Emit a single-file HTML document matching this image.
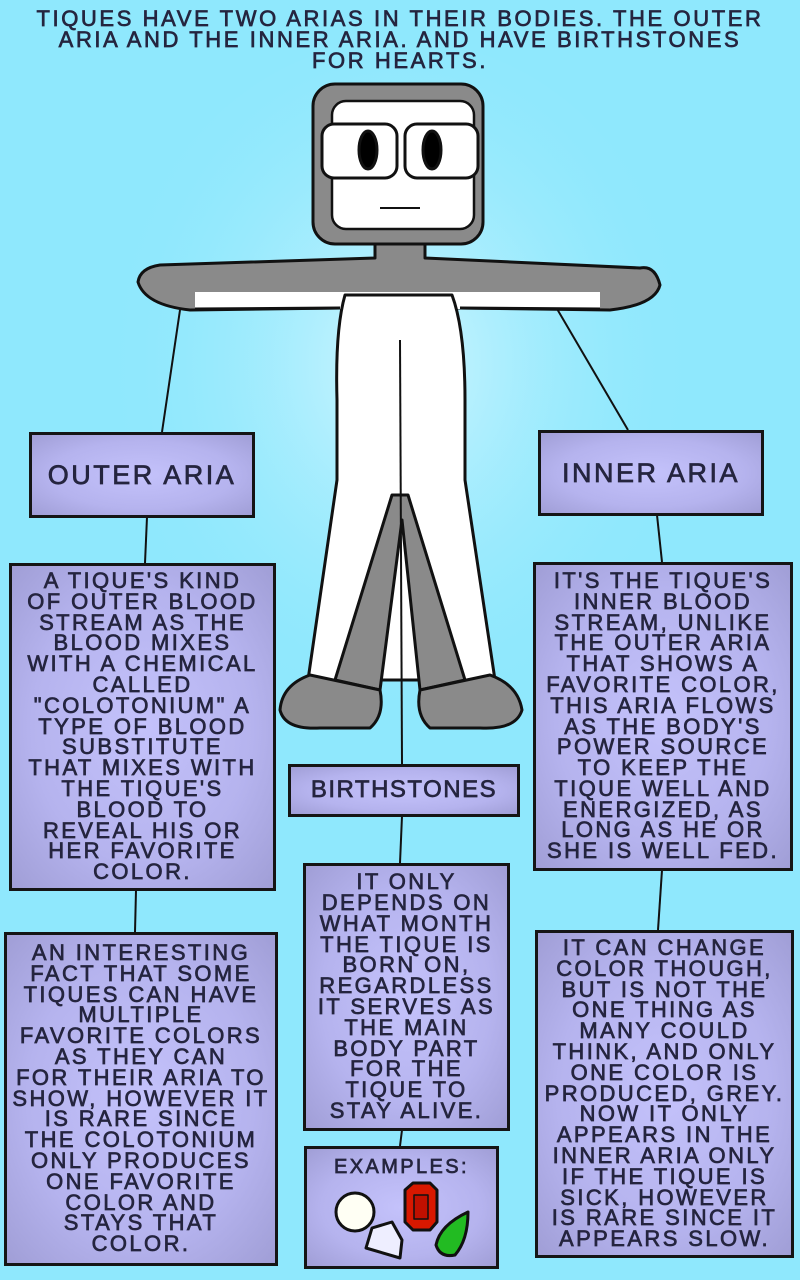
<!DOCTYPE html>
<html><head><meta charset="utf-8"><style>
html,body{margin:0;padding:0}
body{width:800px;height:1280px;position:relative;overflow:hidden;background:#8fe8fd;font-family:"Liberation Sans",sans-serif;color:#25253f}
.t{position:absolute;text-align:center;text-transform:uppercase;-webkit-text-stroke:0.7px #25253f}
.b{position:absolute;box-sizing:border-box;border:3px solid #151515;background:radial-gradient(ellipse at center,#c4c2fb 0%,#b5b3ee 60%,#a09ed6 100%);text-align:center;text-transform:uppercase;-webkit-text-stroke:0.7px #25253f;font-size:22px;line-height:20.8px;letter-spacing:2.4px;display:flex;align-items:center;justify-content:center;white-space:nowrap}
svg{position:absolute;left:0;top:0}
</style></head><body>
<svg width="800" height="1280">
<defs><radialGradient id="glow" cx="50%" cy="45%" r="50%"><stop offset="0" stop-color="#ffffff" stop-opacity="0.6"/><stop offset="1" stop-color="#8fe8fd" stop-opacity="0"/></radialGradient></defs>
<ellipse cx="400" cy="400" rx="300" ry="360" fill="url(#glow)"/>
<g stroke="#111" stroke-width="2" fill="none">
<line x1="180" y1="310" x2="162" y2="432"/>
<line x1="147" y1="517" x2="145" y2="563"/>
<line x1="136" y1="890" x2="135" y2="932"/>
<line x1="553" y1="302" x2="628" y2="430"/>
<line x1="657" y1="515" x2="662" y2="562"/>
<line x1="662" y1="870" x2="658" y2="930"/>
<line x1="402" y1="1130" x2="400" y2="1146"/>
<line x1="402" y1="816" x2="400" y2="863"/>
</g>
<g stroke="#111" stroke-width="3" stroke-linejoin="round">
<path d="M375 233 L375 258 L160 265 Q140 268 138 282 Q145 305 190 310 L340 308 L460 308 L610 310 Q655 305 660 285 Q655 265 640 268 L425 258 L425 233 Z" fill="#8a8a8a"/>
<path d="M195 292 L345 292 L455 292 L600 292 L600 309 L195 309 Z" fill="#fff" stroke="none"/>
<line x1="195" y1="309" x2="340" y2="308" /><line x1="460" y1="308" x2="600" y2="309"/>
<path d="M345 295 Q335 330 337 400 L337 480 L308 680 L495 680 L465 480 L465 400 Q465 330 452 295 Z" fill="#fff"/>
<path d="M392 495 L400 495 L408 495 L465 680 L420 690 L402 520 L380 690 L335 680 Z" fill="#8a8a8a"/>
<path d="M310 675 Q282 685 280 710 Q285 730 320 728 L370 728 Q385 715 380 690 Z" fill="#8a8a8a"/>
<path d="M490 675 Q518 685 522 710 Q516 730 480 728 L430 728 Q415 715 420 690 Z" fill="#8a8a8a"/>
<rect x="313" y="84" width="170" height="160" rx="22" fill="#8a8a8a"/>
<rect x="332" y="101" width="142" height="128" rx="14" fill="#fff" stroke-width="2.5"/>
<rect x="322" y="124" width="75" height="54" rx="12" fill="#fff"/>
<rect x="405" y="124" width="73" height="54" rx="12" fill="#fff"/>
<ellipse cx="368" cy="150" rx="9" ry="19" fill="#000"/>
<ellipse cx="432" cy="150" rx="9" ry="19" fill="#000"/>
<line x1="380" y1="208" x2="420" y2="208" stroke-width="2"/>
</g>
<line x1="400" y1="340" x2="402" y2="764" stroke="#111" stroke-width="2"/>
</svg>
<div class="t" style="left:0;top:8px;width:800px;font-size:22px;line-height:21px;letter-spacing:2.6px">Tiques have two arias in their bodies. The outer<br>aria and the inner aria. And have birthstones<br>for hearts.</div>
<div class="b" style="left:29px;top:432px;width:226px;height:86px;font-size:27px;letter-spacing:2.5px">Outer Aria</div>
<div class="b" style="left:538px;top:430px;width:226px;height:86px;font-size:27px;letter-spacing:2.5px">Inner Aria</div>
<div class="b" style="left:9px;top:563px;width:267px;height:328px">A tique's kind<br>of outer blood<br>stream as the<br>blood mixes<br>with a chemical<br>called<br>"colotonium" a<br>type of blood<br>substitute<br>that mixes with<br>the tique's<br>blood to<br>reveal his or<br>her favorite<br>color.</div>
<div class="b" style="left:4px;top:932px;width:274px;height:334px">An interesting<br>fact that some<br>tiques can have<br>multiple<br>favorite colors<br>as they can<br>for their aria to<br>show, however it<br>is rare since<br>the colotonium<br>only produces<br>one favorite<br>color and<br>stays that<br>color.</div>
<div class="b" style="left:533px;top:562px;width:260px;height:309px">It's the tique's<br>inner blood<br>stream, unlike<br>the outer aria<br>that shows a<br>favorite color,<br>this aria flows<br>as the body's<br>power source<br>to keep the<br>tique well and<br>energized, as<br>long as he or<br>she is well fed.</div>
<div class="b" style="left:535px;top:930px;width:259px;height:328px">It can change<br>color though,<br>but is not the<br>one thing as<br>many could<br>think, and only<br>one color is<br>produced, grey.<br>Now it only<br>appears in the<br>inner aria only<br>if the tique is<br>sick, however<br>is rare since it<br>appears slow.</div>
<div class="b" style="left:288px;top:764px;width:232px;height:53px;font-size:24px;letter-spacing:1.5px">Birthstones</div>
<div class="b" style="left:303px;top:863px;width:207px;height:268px">It only<br>depends on<br>what month<br>the tique is<br>born on,<br>regardless<br>it serves as<br>the main<br>body part<br>for the<br>tique to<br>stay alive.</div>
<div class="b" style="left:304px;top:1146px;width:195px;height:123px;align-items:flex-start;padding-top:8px;font-size:20px">Examples:</div>
<svg width="800" height="1280" style="pointer-events:none">
<g stroke="#111" stroke-width="3" stroke-linejoin="round">
<circle cx="355" cy="1212" r="19" fill="#fffff4"/>
<path d="M372 1228 L392 1222 L402 1240 L400 1258 L366 1248 Z" fill="#eeeeff"/>
<path d="M405 1190 L413 1183 L430 1183 L437 1190 L437 1222 L430 1230 L413 1230 L405 1222 Z" fill="#d81800"/>
<rect x="414" y="1195" width="14" height="24" fill="#c01000" stroke-width="1.5"/>
<path d="M468 1212 Q440 1225 436 1245 Q440 1258 455 1255 Q468 1240 468 1212 Z" fill="#22bb22"/>
</g>
</svg>
</body></html>
